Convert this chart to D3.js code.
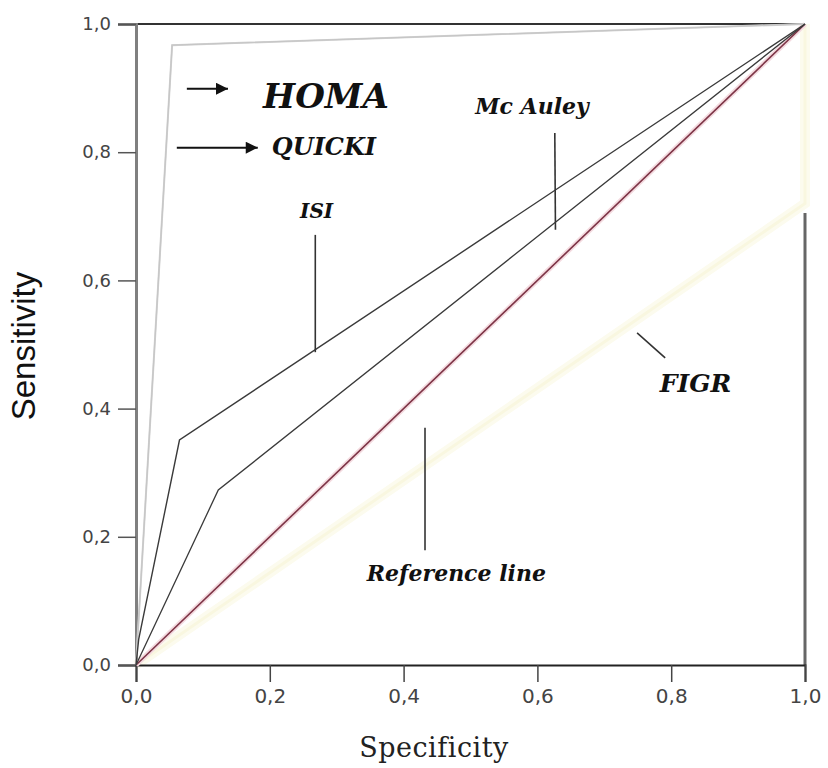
<!DOCTYPE html>
<html><head><meta charset="utf-8">
<script src="https://cdn.jsdelivr.net/npm/d3@7"></script>
<style>html,body{margin:0;padding:0;background:#fff;}svg{display:block;}</style>
</head><body>
<svg id="c" width="828" height="768"></svg>
<script>
// ---- data ----
const ticks = [0, 0.2, 0.4, 0.6, 0.8, 1.0];
const tickLabels = ["0,0", "0,2", "0,4", "0,6", "0,8", "1,0"];
const homaSpec = [0, 0.054, 1];
const homaSens = [0, 0.967, 1];
const quickiSpec = [0, 0.054, 1];
const quickiSens = [0, 0.967, 1];
const isiSpec = [0, 0.004, 0.065, 1];
const isiSens = [0, 0.04, 0.351, 1];
const mcauleySpec = [0, 0.123, 1];
const mcauleySens = [0, 0.273, 1];
const figrSpec = [0, 1, 1];
const figrSens = [0, 0.72, 1];
const refSpec = [0, 1];
const refSens = [0, 1];

const svg = d3.select("#c");
const x = d3.scaleLinear().domain([0, 1]).range([136, 805]);
const y = d3.scaleLinear().domain([0, 1]).range([665, 24]);
const pts = (a, b) => a.map((v, i) => [v, b[i]]);
const line = d3.line().x(d => x(d[0])).y(d => y(d[1]));

// FIGR pale band
svg.append("path").attr("d", line(pts(figrSpec, figrSens)))
  .attr("fill", "none").attr("stroke", "#fcfbee").attr("stroke-width", 10);
svg.append("path").attr("d", line(pts(figrSpec, figrSens)))
  .attr("fill", "none").attr("stroke", "#f9f7e0").attr("stroke-width", 3);

// Frame: top and right border
svg.append("line").attr("x1", x(0)).attr("x2", x(1)).attr("y1", y(1)).attr("y2", y(1))
  .attr("stroke", "#333").attr("stroke-width", 2);
svg.append("line").attr("x1", x(1)).attr("x2", x(1)).attr("y1", y(0.705)).attr("y2", y(0))
  .attr("stroke", "#666").attr("stroke-width", 3);

// Axes
const yAxis = d3.axisLeft(y).tickValues(ticks).tickFormat((d, i) => tickLabels[i]).tickSize(18).tickPadding(7);
const gy = svg.append("g").attr("transform", `translate(${x(0)},0)`).call(yAxis);
gy.select(".domain").attr("stroke", "#808080").attr("stroke-width", 3);
gy.selectAll(".tick line").attr("stroke", "#555").attr("stroke-width", 1.5);
gy.selectAll(".tick text").attr("font-family", "DejaVu Sans").attr("font-size", 18).attr("fill", "#444");

const xAxis = d3.axisBottom(x).tickValues(ticks).tickFormat((d, i) => tickLabels[i]).tickSize(17).tickPadding(7);
const gx = svg.append("g").attr("transform", `translate(0,${y(0)})`).call(xAxis);
gx.select(".domain").attr("stroke", "#222").attr("stroke-width", 2);
gx.selectAll(".tick line").attr("stroke", "#444").attr("stroke-width", 1.5);
gx.selectAll(".tick text").attr("font-family", "DejaVu Sans").attr("font-size", 20).attr("fill", "#444");

// Reference line (with pale halo)
svg.append("path").attr("d", line(pts(refSpec, refSens)))
  .attr("fill", "none").attr("stroke", "#f4dbe0").attr("stroke-width", 5);
svg.append("path").attr("d", line(pts(refSpec, refSens)))
  .attr("fill", "none").attr("stroke", "#7d3446").attr("stroke-width", 1.6);

// HOMA / QUICKI pale lines
svg.append("path").attr("d", line(pts(quickiSpec, quickiSens)))
  .attr("fill", "none").attr("stroke", "#d4d4d4").attr("stroke-width", 2);
svg.append("path").attr("d", line(pts(homaSpec, homaSens)))
  .attr("fill", "none").attr("stroke", "#c6c6c6").attr("stroke-width", 1.3);

// ISI and McAuley
svg.append("path").attr("d", line(pts(isiSpec, isiSens)))
  .attr("fill", "none").attr("stroke", "#3a3a3a").attr("stroke-width", 1.4);
svg.append("path").attr("d", line(pts(mcauleySpec, mcauleySens)))
  .attr("fill", "none").attr("stroke", "#3a3a3a").attr("stroke-width", 1.3);

// Arrow marker
svg.append("defs").append("marker").attr("id", "ah")
  .attr("viewBox", "0 0 10 10").attr("refX", 10).attr("refY", 5)
  .attr("markerWidth", 16).attr("markerHeight", 12).attr("markerUnits", "userSpaceOnUse")
  .attr("orient", "auto")
  .append("path").attr("d", "M0,0 L10,5 L0,10 Z").attr("fill", "#111");

const arrows = [
  {x1: 0.076, x2: 0.1375, y: 0.899},
  {x1: 0.061, x2: 0.182, y: 0.807}
];
arrows.forEach(a => {
  svg.append("line").attr("x1", x(a.x1)).attr("x2", x(a.x2)).attr("y1", y(a.y)).attr("y2", y(a.y))
    .attr("stroke", "#111").attr("stroke-width", 2).attr("marker-end", "url(#ah)");
});

// Pointer lines
const pointers = [
  {x1: 0.268, y1: 0.671, x2: 0.268, y2: 0.488},
  {x1: 0.626, y1: 0.83, x2: 0.627, y2: 0.679},
  {x1: 0.749, y1: 0.518, x2: 0.791, y2: 0.479},
  {x1: 0.432, y1: 0.37, x2: 0.432, y2: 0.179}
];
pointers.forEach(p => {
  svg.append("line").attr("x1", x(p.x1)).attr("x2", x(p.x2)).attr("y1", y(p.y1)).attr("y2", y(p.y2))
    .attr("stroke", "#333").attr("stroke-width", 1.6);
});

// Labels
const labels = [
  {t: "HOMA", x: 0.19, y: 0.869, s: 34, a: "start"},
  {t: "QUICKI", x: 0.203, y: 0.796, s: 24, a: "start"},
  {t: "ISI", x: 0.27, y: 0.697, s: 20, a: "middle"},
  {t: "Mc Auley", x: 0.507, y: 0.86, s: 22, a: "start"},
  {t: "FIGR", x: 0.783, y: 0.426, s: 25, a: "start"},
  {t: "Reference line", x: 0.345, y: 0.131, s: 22, a: "start"}
];
labels.forEach(l => {
  svg.append("text").attr("x", x(l.x)).attr("y", y(l.y)).attr("text-anchor", l.a)
    .attr("font-family", "DejaVu Serif").attr("font-weight", "bold").attr("font-style", "italic")
    .attr("font-size", l.s).attr("fill", "#111").text(l.t);
});

// Axis titles
svg.append("text").attr("x", 434).attr("y", 757).attr("text-anchor", "middle")
  .attr("font-family", "DejaVu Serif").attr("font-size", 27).attr("letter-spacing", 0.5).attr("fill", "#222").text("Specificity");
svg.append("text").attr("transform", "translate(35,346) rotate(-90)").attr("text-anchor", "middle")
  .attr("font-family", "Liberation Sans").attr("font-size", 33).attr("fill", "#111").text("Sensitivity");
</script>
</body></html>
